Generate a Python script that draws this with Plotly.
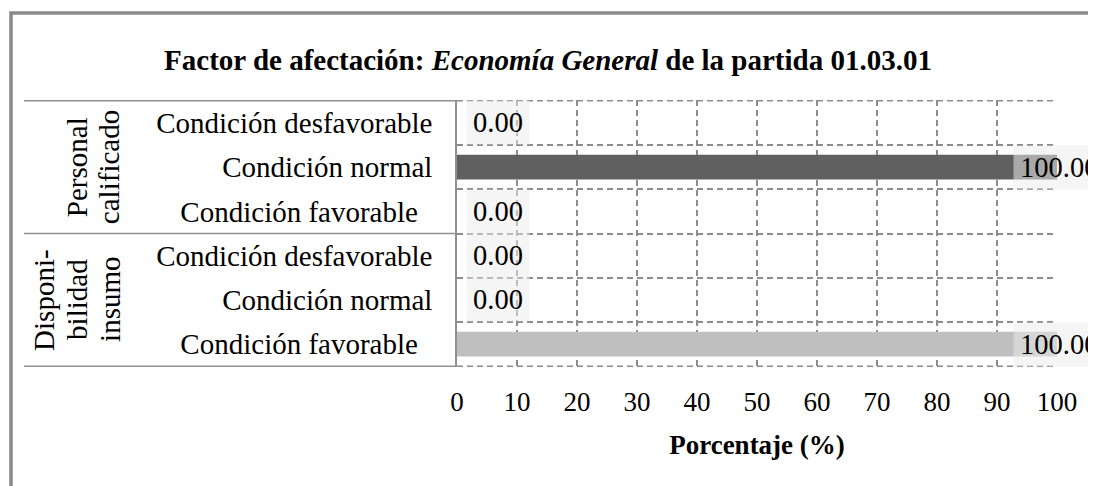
import plotly.graph_objects as go

# ---------------- data ----------------
groups = ["Personal calificado", "Disponibilidad insumo"]
group_lines = [["Personal", "calificado"], ["Disponi-", "bilidad", "insumo"]]
conditions = ["Condición desfavorable", "Condición normal", "Condición favorable"]
values_personal = [0.00, 100.00, 0.00]
values_insumo = [0.00, 0.00, 100.00]
x_ticks = [0, 10, 20, 30, 40, 50, 60, 70, 80, 90, 100]
title_text = "<b>Factor de afectación: <i>Economía General</i> de la partida 01.03.01</b>"
x_title = "<b>Porcentaje (%)</b>"

# ---------------- layout constants ----------------
OFF = 8                      # default page body margin
PAGE_W, PAGE_H = 1096, 486
W, H = PAGE_W - OFF, PAGE_H - OFF
PLOT_X0, PLOT_X1, PLOT_Y0, PLOT_Y1 = 457, 1057, 100, 367   # page pixels
L, R = PLOT_X0 - OFF, PAGE_W - PLOT_X1
T, B = PLOT_Y0 - OFF, PAGE_H - PLOT_Y1
PW, PH = W - L - R, H - T - B
FONT = "Liberation Serif, Times New Roman, serif"
GRID = "#8c8c8c"
bar_colors = ["#606060", "#bfbfbf"]


def px_x(px):  # page px -> paper
    return (px - PLOT_X0) / PW


def px_y(py):  # page px -> paper
    return (PLOT_Y1 - py) / PH


series = [values_personal, values_insumo]
keys = [f"{g}|{c}" for g in groups for c in conditions]
ticktext = []
for g in groups:
    for c in conditions:
        ticktext.append(c + ("\u00a0\u00a0" if c == "Condición favorable" else ""))

fig = go.Figure()
for gi, g in enumerate(groups):
    fig.add_trace(go.Bar(
        x=series[gi],
        y=[f"{g}|{c}" for c in conditions],
        orientation="h",
        marker=dict(color=bar_colors[gi], line=dict(width=0)),
        showlegend=False,
        hoverinfo="x+y",
    ))

# value labels
for gi, g in enumerate(groups):
    for ci, c in enumerate(conditions):
        v = series[gi][ci]
        fig.add_annotation(
            x=v, y=f"{g}|{c}", xref="x", yref="y",
            text=f"{v:.2f}", showarrow=False,
            xanchor="left", yanchor="middle",
            xshift=9 if v < 90 else -44,
            bgcolor="rgba(235,235,235,0.52)", borderpad=6,
            font=dict(family=FONT, size=28.5, color="black"),
        )

# group labels (rotated)
group_x = [[77, 109], [44, 77, 110]]
for gi, lines in enumerate(group_lines):
    for li, line in enumerate(lines):
        fig.add_annotation(
            x=px_x(group_x[gi][li]), xref="paper",
            y=gi * 3 + 1, yref="y",
            text=line, showarrow=False, textangle=-90,
            xanchor="center", yanchor="middle",
            font=dict(family=FONT, size=29, color="black"),
        )

# table lines on the left
for yb in [-0.5, 2.5, 5.5]:
    fig.add_shape(type="line", xref="paper", yref="y",
                  x0=px_x(24), x1=0, y0=yb, y1=yb,
                  line=dict(color="#909090", width=1.5))
# dashed outer grid lines (top / bottom of plot)
for yb in [-0.5, 5.5]:
    fig.add_shape(type="line", xref="paper", yref="y",
                  x0=0, x1=1, y0=yb, y1=yb,
                  line=dict(color=GRID, width=1.5, dash="6px,4px"))

# outer frame
fig.add_shape(type="rect", xref="paper", yref="paper",
              x0=px_x(11), x1=px_x(1104), y0=px_y(495), y1=px_y(13),
              line=dict(color="#8a8a8a", width=3.5), layer="below")

fig.update_layout(
    width=W, height=H,
    margin=dict(l=L, r=R, t=T, b=B, pad=0),
    paper_bgcolor="white", plot_bgcolor="white",
    barmode="overlay", bargap=0.44,
    font=dict(family=FONT, color="black"),
    title=dict(text=title_text, x=(548 - OFF) / W, xanchor="center",
               y=1 - (60 - OFF) / H, yanchor="middle", yref="container",
               font=dict(family=FONT, size=29, color="black")),
    xaxis=dict(range=[0, 100], tickmode="array", tickvals=x_ticks,
               showgrid=True, gridcolor=GRID, gridwidth=1.5, griddash="6px,4px",
               zeroline=False, showline=False, ticks="",
               tickfont=dict(family=FONT, size=27, color="black"),
               ticklabelstandoff=16,
               title=dict(text=x_title, standoff=19,
                          font=dict(family=FONT, size=27, color="black"))),
    yaxis=dict(type="category", categoryorder="array", categoryarray=keys,
               autorange="reversed", tickmode="array", tickvals=keys, ticktext=ticktext,
               tickson="boundaries", showgrid=True, gridcolor=GRID, gridwidth=1.5,
               griddash="6px,4px", showline=True, linecolor="#909090", linewidth=1.5,
               ticks="", zeroline=False, ticklabelstandoff=17,
               tickfont=dict(family=FONT, size=29, color="black")),
)

fig.write_html("out.html")
